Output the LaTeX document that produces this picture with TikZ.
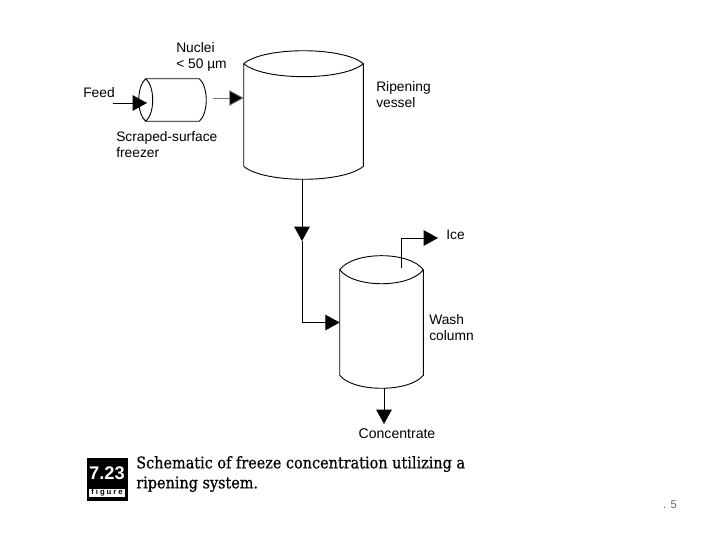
\documentclass[tikz,border=0pt]{standalone}
\usepackage{fontspec}
\setmainfont{Liberation Sans}
\newfontfamily\captionfont[FakeBold=0.6]{DejaVu Serif Condensed}
\usetikzlibrary{arrows.meta,positioning}
\tikzset{
    vesselbody/.style={rectangle, inner sep=0pt},
    vesselline/.style={draw, line width=0.65pt},
    flow/.style={draw, line width=0.65pt, -{Triangle[length=3.6mm,width=3.9mm]}},
    tag/.style={font=\fontsize{9.8}{11.4}\selectfont, align=left, anchor=west, inner sep=0pt},
    captiontext/.style={font=\captionfont\fontsize{11.4}{14.2}\selectfont, align=left, anchor=west, inner sep=0pt}
}
\begin{document}
\begin{tikzpicture}[x=0.025cm, y=-0.025cm]
    \useasboundingbox (0,0) rectangle (720,540);
    % ripening vessel
    \node[vesselbody, minimum width=2.975cm, minimum height=2.55cm] (ripening) at (303.5,115) {};
    \draw[vesselline] (ripening.north west) .. controls +(20,-17.3) and +(-20,-17.3) .. (ripening.north east)
        .. controls +(-20,17.3) and +(20,17.3) .. (ripening.north west) -- (ripening.south west)
        .. controls +(20,17.3) and +(-20,17.3) .. (ripening.south east) -- (ripening.north east);
    % wash column
    \node[vesselbody, minimum width=2.075cm, minimum height=2.625cm] (wash) at (381.5,322.5) {};
    \draw[vesselline] (wash.north west) .. controls +(14,-18.7) and +(-14,-18.7) .. (wash.north east)
        .. controls +(-14,18.7) and +(14,18.7) .. (wash.north west) -- (wash.south west)
        .. controls +(14,17.3) and +(-14,17.3) .. (wash.south east) -- (wash.north east);
    % freezer
    \node[vesselbody, minimum width=1.325cm, minimum height=1.05cm] (freezer) at (172.5,100) {};
    \draw[vesselline] (freezer.north west) .. controls +(-9.3,8) and +(-9.3,-8) .. (freezer.south west)
        .. controls +(9.3,-8) and +(9.3,8) .. (freezer.north west) -- (freezer.north east)
        .. controls +(9.3,8) and +(9.3,-8) .. (freezer.south east) -- (freezer.south west);
    % labels
    \node[tag] (nuclei) at (176,57) {Nuclei\\< 50 µm};
    \node[tag] (feed) at (83,93) {Feed};
    \node[tag] (scraped) at (116,145) {Scraped-surface\\freezer};
    \node[tag] (ripelabel) at (376,95) {Ripening\\vessel};
    \node[tag] (washlabel) at (429,328) {Wash\\column};
    \node[tag] (ice) at (446,235) {Ice};
    \node[tag, anchor=center, font=\fontsize{10}{11.4}\selectfont] (concentrate) at (397,434) {Concentrate};
    % free ends
    \coordinate (feedin) at (113,103);
    \coordinate (feedtip) at (147,103);
    \coordinate (freezerout) at (213,98);
    \coordinate (ripeout) at (302,179);
    \coordinate (transfer) at (302,241);
    \coordinate (iceout) at (401,268);
    \coordinate (icetip) at (438,238);
    \coordinate (washout) at (384,388);
    \coordinate (washtip) at (384,424);
    % connectors
    \draw[flow] (feedin) -- (feedtip);
    \draw[flow, draw=black!55, -{Triangle[length=3.6mm,width=3.9mm,fill=black]}] (freezerout) -- (freezerout -| ripening.west);
    \draw[flow] (ripeout) -- (transfer);
    \draw[flow] (transfer) |- (wash.west);
    \draw[flow] (iceout) |- (icetip);
    \draw[flow] (washout) -- (washtip);
    % caption
    \node[draw=black, fill=black, minimum width=1cm, minimum height=1.05cm, inner sep=0pt] (badge) at (107,479) {};
    \node[text=white, font=\bfseries\fontsize{13}{13}\selectfont, inner sep=0pt] (badgenum) at (107,473) {7.23};
    \node[fill=white, minimum width=0.9cm, minimum height=0.2cm, inner sep=0pt, font=\bfseries\fontsize{5.5}{5.5}\selectfont\addfontfeature{LetterSpace=25}] (badgeword) at (107,493) {figure};
    \node[captiontext] (caption) at (136,474) {Schematic of freeze concentration utilizing a\\ripening system.};
    \node[text=black!60, font=\fontsize{8}{8}\selectfont, inner sep=0pt] (pageno) at (670,505) {. 5};
\end{tikzpicture}
\end{document}
